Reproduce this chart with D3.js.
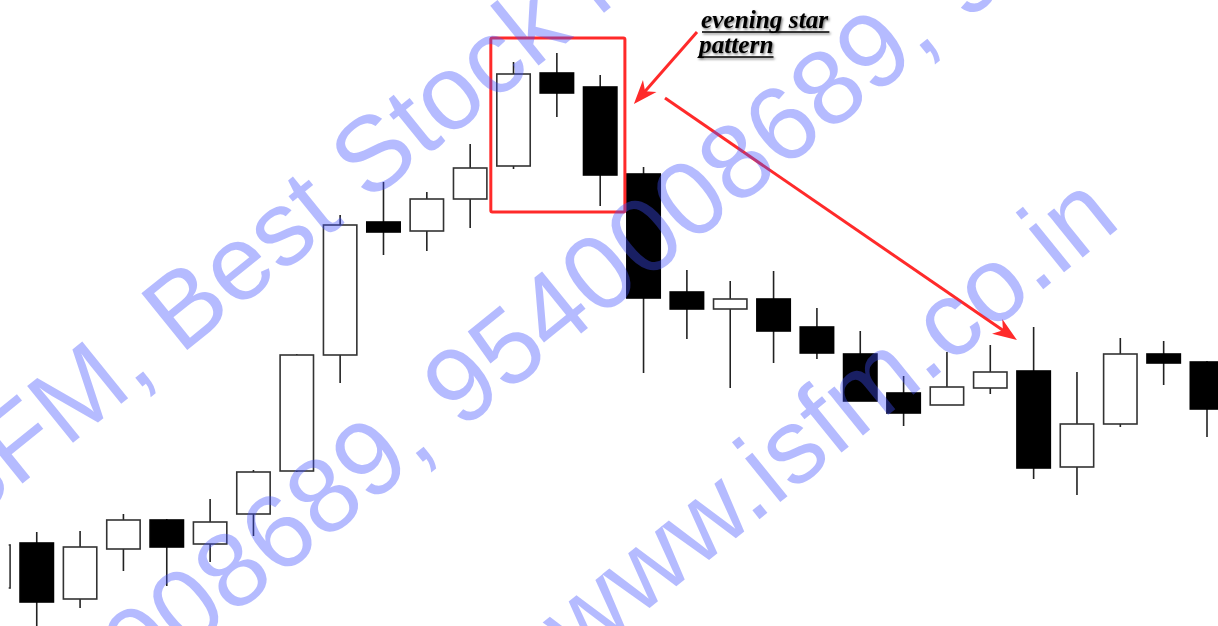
<!DOCTYPE html>
<html>
<head>
<meta charset="utf-8">
<script src="https://cdn.jsdelivr.net/npm/d3@7"></script>
<style>
  html, body { margin: 0; padding: 0; background: #fff; }
  svg { display: block; }
</style>
</head>
<body>
<div id="chart"></div>
<script>
// ---- data (price units) ----
const days   = d3.range(29).map(i => "D" + (i + 1));
const opens  = [38, 83, 27, 77, 106, 82, 112, 155, 271, 404, 395, 427, 460, 553, 539, 452, 334, 317, 327, 299, 272, 233, 221, 238, 255, 159, 202, 272, 264];
const highs  = [81, 94, 95, 112, 107, 127, 156, 272, 411, 444, 434, 482, 564, 573, 551, 459, 356, 345, 355, 318, 295, 250, 274, 281, 299, 254, 288, 285, 265];
const lows   = [38, -5, 18, 55, 40, 64, 90, 154, 243, 371, 375, 398, 457, 509, 420, 253, 287, 238, 263, 267, 225, 200, 221, 232, 147, 131, 199, 241, 189];
const closes = [81, 24, 79, 106, 79, 104, 154, 271, 401, 394, 427, 458, 552, 533, 451, 328, 317, 327, 295, 273, 225, 213, 239, 254, 158, 202, 272, 263, 217];

const patternDays = [12, 13, 14];          // evening star candles
const targetDay = 24;                      // candle the second arrow points at
const annotationLines = ["evening star", "pattern"];
const watermarkLines = [
  "ISFM, Best Stock Market Institute",
  "9540008689, 9540008689, 9540008689",
  "www.isfm.co.in"
];

const W = 1218, H = 626;
const svg = d3.select("#chart").append("svg").attr("width", W).attr("height", H);

const x = d3.scaleLinear().domain([0, days.length - 1]).range([-6.6, 1207]);
const y = d3.scaleLinear().domain([0, 626]).range([626, 0]);
const bw = 33.4;

const data = days.map((d, i) => ({ d, i, o: opens[i], h: highs[i], l: lows[i], c: closes[i] }));

const defs = svg.append("defs");
defs.append("clipPath").attr("id", "plotclip")
  .append("rect").attr("x", 8.7).attr("y", 0).attr("width", W).attr("height", H);

const g = svg.append("g").attr("clip-path", "url(#plotclip)");
// wicks
g.selectAll("line.wick").data(data).join("line")
  .attr("class", "wick")
  .attr("x1", d => x(d.i)).attr("x2", d => x(d.i))
  .attr("y1", d => y(d.h)).attr("y2", d => y(d.l))
  .attr("stroke", "#222").attr("stroke-width", 1.6);
// bodies
g.selectAll("rect.body").data(data).join("rect")
  .attr("class", "body")
  .attr("x", d => x(d.i) - bw / 2)
  .attr("width", bw)
  .attr("y", d => y(Math.max(d.o, d.c)))
  .attr("height", d => Math.max(1, Math.abs(y(d.o) - y(d.c))))
  .attr("fill", d => d.c >= d.o ? "#fff" : "#000")
  .attr("stroke", d => d.c >= d.o ? "#333" : "#000")
  .attr("stroke-width", 1.6);

// ---- annotation ----
const red = "#ff2a2a";
const pHigh = d3.max(patternDays, i => highs[i]);
const pLow = d3.min(patternDays, i => lows[i]);
const bx0 = x(patternDays[0]) - bw / 2 - 6;
const bx1 = x(patternDays[patternDays.length - 1]) + bw / 2 + 8;
const by0 = y(pHigh) - 15;
const by1 = y(pLow) + 6;
svg.append("rect")
  .attr("x", bx0).attr("y", by0)
  .attr("width", bx1 - bx0).attr("height", by1 - by0)
  .attr("rx", 1.5)
  .attr("fill", "none").attr("stroke", red).attr("stroke-width", 3);

function arrow(x1, y1, x2, y2) {
  const ang = Math.atan2(y2 - y1, x2 - x1);
  const back = 10;
  svg.append("line")
    .attr("x1", x1).attr("y1", y1)
    .attr("x2", x2 - back * Math.cos(ang)).attr("y2", y2 - back * Math.sin(ang))
    .attr("stroke", red).attr("stroke-width", 3);
  svg.append("path")
    .attr("d", "M0,0 L-24,-9 L-17,0 L-24,9 Z")
    .attr("transform", `translate(${x2},${y2}) rotate(${ang * 180 / Math.PI})`)
    .attr("fill", red);
}
arrow(697, 32, bx1 + 9, 104);
arrow(665, 98, x(targetDay) - bw / 2, y(highs[targetDay]) + 13);

const f = defs.append("filter").attr("id", "sh").attr("x", "-10%").attr("y", "-30%").attr("width", "130%").attr("height", "170%");
f.append("feDropShadow").attr("dx", 1.2).attr("dy", 1.5).attr("stdDeviation", 0.9).attr("flood-color", "#000").attr("flood-opacity", 0.55);

const ann = svg.append("g").attr("filter", "url(#sh)");
const annPos = [[701, 28], [699, 53]];
annotationLines.forEach((t, k) => {
  const tx = ann.append("text")
    .attr("x", annPos[k][0]).attr("y", annPos[k][1])
    .attr("font-family", "'Liberation Serif', 'Times New Roman', serif")
    .attr("font-style", "italic").attr("font-weight", "bold")
    .attr("font-size", 25.3)
    .attr("fill", "#000")
    .text(t);
  const bb = tx.node().getBBox();
  ann.append("line")
    .attr("x1", bb.x + 1).attr("x2", bb.x + bb.width)
    .attr("y1", annPos[k][1] + 4).attr("y2", annPos[k][1] + 4)
    .attr("stroke", "#000").attr("stroke-width", 1.6);
});

// ---- watermark ----
const wmPos = [[-62, 552], [-43, 839], [578, 666]];
const wm = svg.append("g");
watermarkLines.forEach((t, k) => {
  wm.append("text")
    .attr("transform", `translate(${wmPos[k][0]},${wmPos[k][1]}) rotate(-39)`)
    .attr("font-family", "'Liberation Sans', Arial, sans-serif")
    .attr("font-size", 106)
    .attr("fill", "rgb(64,80,255)")
    .attr("fill-opacity", 0.39)
    .text(t);
});
</script>
</body>
</html>
